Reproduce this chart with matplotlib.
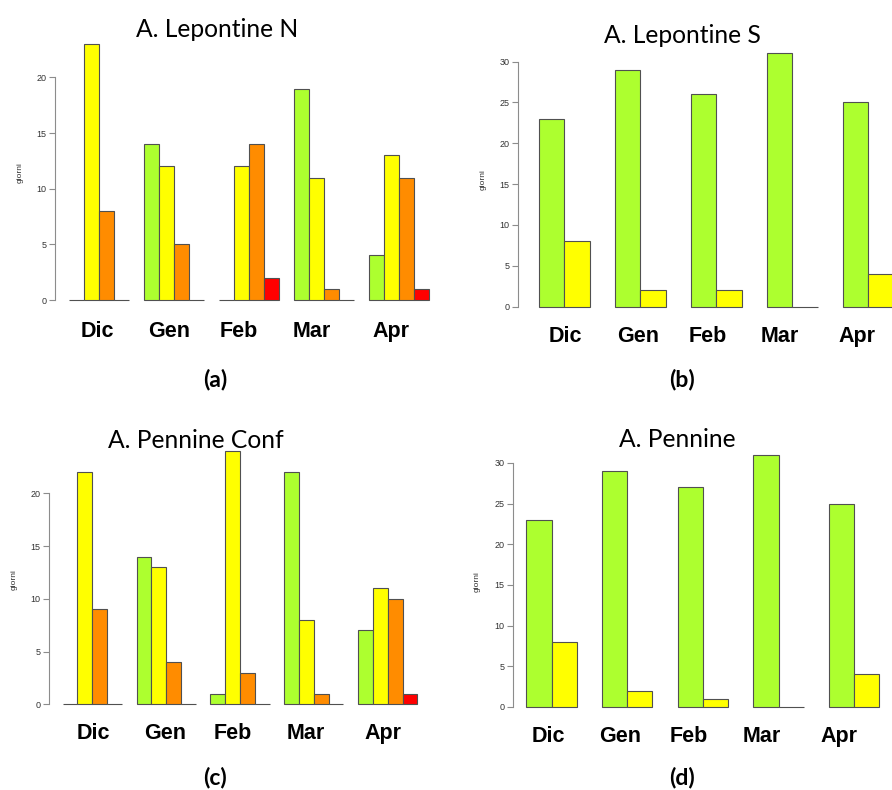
import numpy as np
import matplotlib.pyplot as plt

# figura in pixel (892x790)
W, H = 892, 790

mesi = ['Dic', 'Gen', 'Feb', 'Mar', 'Apr']
colori = ['#ADFF2F', '#FFFF00', '#FF8C00', '#FF0000']

# giorni per classe (righe) e mese (colonne)
lep_n = [[0, 14, 0, 19, 4],
         [23, 12, 12, 11, 13],
         [8, 5, 14, 1, 11],
         [0, 0, 2, 0, 1]]
lep_s = [[23, 29, 26, 31, 25],
         [8, 2, 2, 0, 4]]
pen_conf = [[0, 14, 1, 22, 7],
            [22, 13, 24, 8, 11],
            [9, 4, 3, 1, 10],
            [0, 0, 0, 0, 1]]
pen = [[23, 29, 27, 31, 25],
       [8, 2, 1, 0, 4]]

# posizioni dei pannelli (pixel)
pannelli = [
    dict(dati=lep_n, titolo='A. Lepontine N', lettera='(a)', ytop=20,
         x0=54, dx=15, y0=300, dy=11.13, asse=55, right=445, top=30,
         tit=(217, 36.7), let=(215, 379), ylab=(20, 173),
         off=[-2, -5, -10, -12, -8], mb=37),
    dict(dati=lep_s, titolo='A. Lepontine S', lettera='(b)', ytop=30,
         x0=513.7, dx=25.33, y0=306.7, dy=8.17, asse=518, right=892, top=50,
         tit=(682.5, 43.3), let=(682, 379), ylab=(483, 180),
         off=[1, -2, -9, -13, -11], mb=35),
    dict(dati=pen_conf, titolo='A. Pennine Conf', lettera='(c)', ytop=20,
         x0=47.9, dx=14.78, y0=704.3, dy=10.55, asse=49, right=445, top=440,
         tit=(196, 448.3), let=(215, 778), ylab=(14, 580),
         off=[1, -1, -7, -8, -5], mb=35),
    dict(dati=pen, titolo='A. Pennine', lettera='(d)', ytop=30,
         x0=501.1, dx=25.22, y0=707, dy=8.14, asse=513, right=892, top=450,
         tit=(677.5, 446.7), let=(682, 778), ylab=(477, 582),
         off=[-3, -7, -14, -17, -15], mb=35),
]

fig = plt.figure(figsize=(W / 100, H / 100), dpi=100)

for p in pannelli:
    bottom = p['y0'] + 3
    ax = fig.add_axes([p['asse'] / W, 1 - bottom / H,
                       (p['right'] - p['asse']) / W, (bottom - p['top']) / H])
    ax.set_xlim((p['asse'] - p['x0']) / p['dx'], (p['right'] - p['x0']) / p['dx'])
    ax.set_ylim(-3 / p['dy'], (p['y0'] - p['top']) / p['dy'])
    ax.patch.set_alpha(0)

    n = len(p['dati'])
    gruppi = 1 + np.arange(len(mesi)) * (n + 1)
    for k, serie in enumerate(p['dati']):
        ax.bar(gruppi + k, serie, width=1, align='edge', color=colori[k],
               edgecolor='#505050', linewidth=0.8, clip_on=False)

    for s in ['top', 'right', 'bottom']:
        ax.spines[s].set_visible(False)
    ax.spines['left'].set_bounds(0, p['ytop'])
    ax.spines['left'].set_color('#8c8c8c')
    ax.spines['left'].set_linewidth(0.8)
    ax.set_xticks([])
    ax.set_yticks(np.arange(0, p['ytop'] + 1, 5))
    ax.tick_params(axis='y', length=4, width=0.8, color='#8c8c8c',
                   labelsize=6.5, labelcolor='#333333', pad=2)
    for lab in ax.get_yticklabels():
        lab.set_family('Liberation Sans')

    # etichette dei mesi sotto i gruppi
    for g, m in enumerate(mesi):
        ax.annotate(m, xy=(gruppi[g] + n / 2, 0), xycoords='data',
                    xytext=(p['off'][g], -p['mb']), textcoords='offset pixels',
                    ha='center', va='baseline', fontsize=15.5, fontweight='bold',
                    family='Liberation Sans', annotation_clip=False)

    fig.text(p['tit'][0] / W, 1 - p['tit'][1] / H, p['titolo'], ha='center',
             va='baseline', family='Lato', fontsize=17.7)
    fig.text(p['let'][0] / W, 1 - p['let'][1] / H, p['lettera'], ha='center',
             va='center', family='Lato', fontweight='bold', fontsize=16.5)
    fig.text(p['ylab'][0] / W, 1 - p['ylab'][1] / H, 'giorni', ha='center',
             va='center', rotation=90, family='Liberation Sans', fontsize=6,
             color='#333333')

fig.savefig('out.png', dpi=100)
